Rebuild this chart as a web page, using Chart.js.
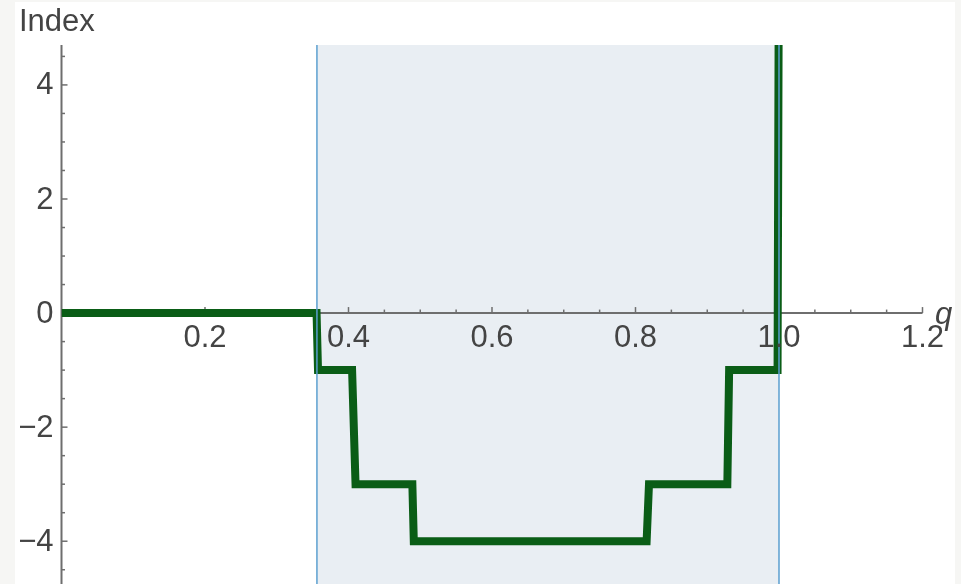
<!DOCTYPE html>
<html>
<head>
<meta charset="utf-8">
<script src="https://cdn.jsdelivr.net/npm/chart.js@4.4.0/dist/chart.umd.min.js"></script>
<style>
    html, body { margin: 0; padding: 0; background: #f6f6f4; }
    #marco { position: absolute; left: 15px; top: 2px; width: 940px; height: 582px; background: #fff; }
</style>
</head>
<body>
<div id="marco"><canvas id="grafico" width="940" height="582"></canvas></div>
<script>
// datos
const qValues     = [0, 0.3555, 0.3575, 0.405, 0.4098, 0.489, 0.491, 0.8155, 0.8188, 0.928, 0.9305, 0.998, 0.9995];
const indexValues = [0, 0,      -1,     -1,    -3,     -3,    -4,    -4,     -3,     -3,    -1,     -1,    5];
const shadedRange = [0.356, 1.0];
const xTicks      = [0.2, 0.4, 0.6, 0.8, 1.0, 1.2];
const xTickLabels = ['0.2', '0.4', '0.6', '0.8', '1.0', '1.2'];
const yTicks      = [-4, -2, 0, 2, 4];
const yTickLabels = ['\u22124', '\u22122', '0', '2', '4'];

const FUENTE = '31px "Liberation Sans", Arial, sans-serif';
const GRIS = '#6e6e6e';
const TEXTO = '#444444';

const ejes = {
    id: 'ejes',
    beforeDatasetsDraw(chart) {
        const { ctx, chartArea: a, scales: { x, y } } = chart;
        const x0 = x.getPixelForValue(shadedRange[0]);
        const x1 = x.getPixelForValue(shadedRange[1]);
        const ox = x.getPixelForValue(0);
        const oy = y.getPixelForValue(0);
        ctx.save();
        // banda sombreada
        ctx.fillStyle = '#e9eef3';
        ctx.fillRect(x0, a.top, x1 - x0, a.bottom - a.top);

        ctx.strokeStyle = GRIS;
        ctx.lineWidth = 2;
        // eje x
        ctx.beginPath();
        ctx.moveTo(ox, oy);
        ctx.lineTo(x.getPixelForValue(1.2), oy);
        ctx.stroke();
        // eje y
        ctx.beginPath();
        ctx.moveTo(ox, a.top);
        ctx.lineTo(ox, a.bottom);
        ctx.stroke();

        // marcas x cada 0.05, mayores cada 0.2
        ctx.lineWidth = 1.5;
        for (let i = 1; i <= 24; i++) {
            const px = x.getPixelForValue(i * 0.05);
            const len = i % 4 === 0 ? 6 : 3.5;
            ctx.beginPath();
            ctx.moveTo(px, oy);
            ctx.lineTo(px, oy - len);
            ctx.stroke();
        }
        // marcas y cada 0.5, mayores cada 2
        for (let i = -9; i <= 9; i++) {
            if (i === 0) continue;
            const py = y.getPixelForValue(i * 0.5);
            const len = i % 4 === 0 ? 6 : 3.5;
            ctx.beginPath();
            ctx.moveTo(ox, py);
            ctx.lineTo(ox + len, py);
            ctx.stroke();
        }
        ctx.restore();
    },
    afterDatasetsDraw(chart) {
        const { ctx, chartArea: a, scales: { x, y } } = chart;
        const ox = x.getPixelForValue(0);
        const oy = y.getPixelForValue(0);
        ctx.save();
        // bordes de la banda
        ctx.strokeStyle = '#5b9fd0';
        ctx.lineWidth = 1.5;
        shadedRange.forEach(v => {
            const px = x.getPixelForValue(v);
            ctx.beginPath();
            ctx.moveTo(px, a.top);
            ctx.lineTo(px, a.bottom);
            ctx.stroke();
        });

        // etiquetas
        ctx.fillStyle = TEXTO;
        ctx.font = FUENTE;
        ctx.textAlign = 'center';
        ctx.textBaseline = 'top';
        xTicks.forEach((v, i) => {
            ctx.fillText(xTickLabels[i], x.getPixelForValue(v), oy + 10);
        });
        ctx.textAlign = 'right';
        ctx.textBaseline = 'middle';
        yTicks.forEach((v, i) => {
            ctx.fillText(yTickLabels[i], ox - 8, y.getPixelForValue(v) + 1);
        });

        ctx.textAlign = 'left';
        ctx.textBaseline = 'alphabetic';
        ctx.fillText('Index', 4, 29);
        ctx.font = 'italic ' + FUENTE;
        ctx.fillText('q', 920, oy + 11);
        ctx.restore();
    }
};

const ctx = document.getElementById('grafico').getContext('2d');
const miGrafico = new Chart(ctx, {
    type: 'scatter',
    data: {
        datasets: [{
            data: qValues.map((q, i) => ({ x: q, y: indexValues[i] })),
            showLine: true,
            borderColor: '#0a5d16',
            borderWidth: 8,
            borderJoinStyle: 'miter',
            borderCapStyle: 'butt',
            pointRadius: 0,
            fill: false,
            tension: 0,
            clip: 0
        }]
    },
    options: {
        responsive: false,
        animation: false,
        events: [],
        layout: { padding: { left: 46.5, right: 0, top: 43, bottom: 0 } },
        scales: {
            x: { type: 'linear', min: 0, max: 1.2453, display: false },
            y: { type: 'linear', min: -4.75, max: 4.70, display: false }
        },
        plugins: {
            legend: { display: false },
            tooltip: { enabled: false },
            title: { display: false }
        }
    },
    plugins: [ejes]
});
</script>
</body>
</html>
